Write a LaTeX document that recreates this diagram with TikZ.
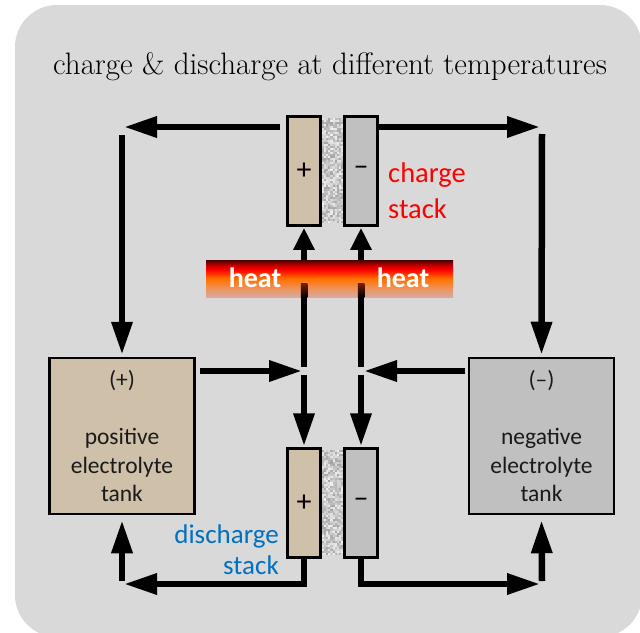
\documentclass[tikz,border=0pt]{standalone}
\usepackage{fontspec}
\newfontfamily\calib{Carlito}
\usetikzlibrary{arrows.meta}
\definecolor{bg}{HTML}{D9D9D9}
\definecolor{tanfill}{HTML}{CFC0A9}
\definecolor{greyfill}{HTML}{C0C0C0}
\definecolor{chargered}{HTML}{FF0000}
\definecolor{dischblue}{HTML}{0070C0}
\definecolor{heattop}{HTML}{4D0000}
\definecolor{heatdark}{HTML}{C00000}
\definecolor{heatred}{HTML}{FF0000}
\definecolor{heatorg}{HTML}{FF7000}
\definecolor{heatorgb}{HTML}{F09050}
\definecolor{heatbot}{HTML}{D8AAA2}
\definecolor{lineorg}{HTML}{7A2000}
\definecolor{txt}{HTML}{1A1A1A}
\pgfdeclareverticalshading{heatshade}{100bp}{color(0bp)=(heatbot); color(25bp)=(heatbot); color(38bp)=(heatorgb); color(50bp)=(heatorg); color(62bp)=(heatred); color(68bp)=(heatdark); color(75bp)=(heattop); color(100bp)=(heattop)}
\newcommand\sepnoise[2]{%
  \foreach \i in {0,...,9}{\foreach \j in {0,...,51}{%
    \pgfmathsetmacro\g{64+30*rnd}%
    \fill[white!\g!black] ({#1+2.1*\i},{#2+2.02*\j}) rectangle ++(2.1,2.02);}}}
\tikzset{
  electrode/.style={draw=black, line width=2.5, minimum width=33, minimum height=109, inner sep=0,
    font={\calib\fontsize{30}{32}\selectfont}, text=black},
  tankbox/.style={draw=black, line width=2.5, minimum width=145, minimum height=156, inner sep=0,
    align=center, font={\calib\fontsize{23.5}{28.5}\selectfont}, text=txt},
  flow/.style={line width=6.5, -{Triangle[length=33,width=20]}},
  shortflow/.style={line width=6.5, -{Triangle[length=22,width=20]}},
  heattext/.style={font={\calib\bfseries\fontsize{28}{30}\selectfont}, text=white, inner sep=0},
}
\begin{document}
\begin{tikzpicture}[x=1pt,y=-1pt]
\useasboundingbox (0,0) rectangle (640,632);
\fill[bg, rounded corners=42] (15,5) rectangle (642,637);
\node[font=\fontsize{31}{34}\selectfont, text=black] (title) at (330,67) {charge \& discharge at different temperatures};
% separators
\pgfmathsetseed{7}
\sepnoise{322}{118}
\sepnoise{322}{450}
% electrodes
\node[electrode, fill=tanfill] (cp) at (304,171) {+};
\node[electrode, fill=greyfill] (cn) at (361,171) {–};
\node[electrode, fill=tanfill] (dp) at (304,503) {+};
\node[electrode, fill=greyfill] (dn) at (361,503) {–};
% tanks
\node[tankbox, fill=tanfill] (tp) at (122,436) {(+)\\[28.5pt]positive\\electrolyte\\tank};
\node[tankbox, fill=greyfill] (tn) at (541.5,436) {(–)\\[28.5pt]negative\\electrolyte\\tank};
% labels
\node[font={\calib\fontsize{28.5}{36}\selectfont}, inner sep=0, text=chargered, align=left, anchor=west] (cl) at (388,191) {charge\\stack};
\node[font={\calib\fontsize{27}{31}\selectfont}, inner sep=0, text=dischblue, align=right, anchor=east] (dl) at (279,550) {discharge\\stack};
% coordinates
\coordinate (a1) at (280,127);
\coordinate (a2) at (124,127);
\coordinate (b1) at (122,135);
\coordinate (c1) at (378,127);
\coordinate (c2) at (540,127);
\coordinate (d1) at (542,134);
\coordinate (e1) at (200,371);
\coordinate (e2) at (302,371);
\coordinate (f1) at (304,367);
\coordinate (g1) at (304,375);
\coordinate (h1) at (465,371);
\coordinate (h2) at (364,371);
\coordinate (i1) at (361,367);
\coordinate (j1) at (361,375);
\coordinate (k1) at (304,584);
\coordinate (k2) at (124,584);
\coordinate (l1) at (122,581);
\coordinate (m1) at (361,584);
\coordinate (m2) at (540,584);
\coordinate (n1) at (542,581);
% connectors
\draw[flow] (a1) -- (a2);
\draw[flow, shorten >=2] (b1) -- (tp.north);
\draw[flow] (c1) -- (c2);
\draw[flow, shorten >=2] (d1) -- (tn.north);
\draw[flow] (e1) -- (e2);
\draw[flow] (h1) -- (h2);
\draw[shortflow, shorten >=1] (f1) -- (cp.south);
\draw[shortflow, shorten >=1] (i1) -- (cn.south);
\draw[flow, shorten >=1] (g1) -- (dp.north);
\draw[flow, shorten >=1] (j1) -- (dn.north);
\draw[flow] (dp.south) -- (k1) -- (k2);
\draw[flow, shorten >=5] (l1) -- (tp.south);
\draw[flow] (dn.south) -- (m1) -- (m2);
\draw[flow, shorten >=5] (n1) -- (tn.south);
% heat bar
\node[shading=heatshade, minimum width=247, minimum height=37, inner sep=0] (heat) at (329.5,278.5) {};
\shade[top color=lineorg, bottom color=black] (300.75,283) rectangle (307.25,297);
\shade[top color=lineorg, bottom color=black] (357.75,283) rectangle (364.25,297);
\node[heattext] (ht1) at (255,278) {heat};
\node[heattext] (ht2) at (403,278) {heat};
\end{tikzpicture}
\end{document}
